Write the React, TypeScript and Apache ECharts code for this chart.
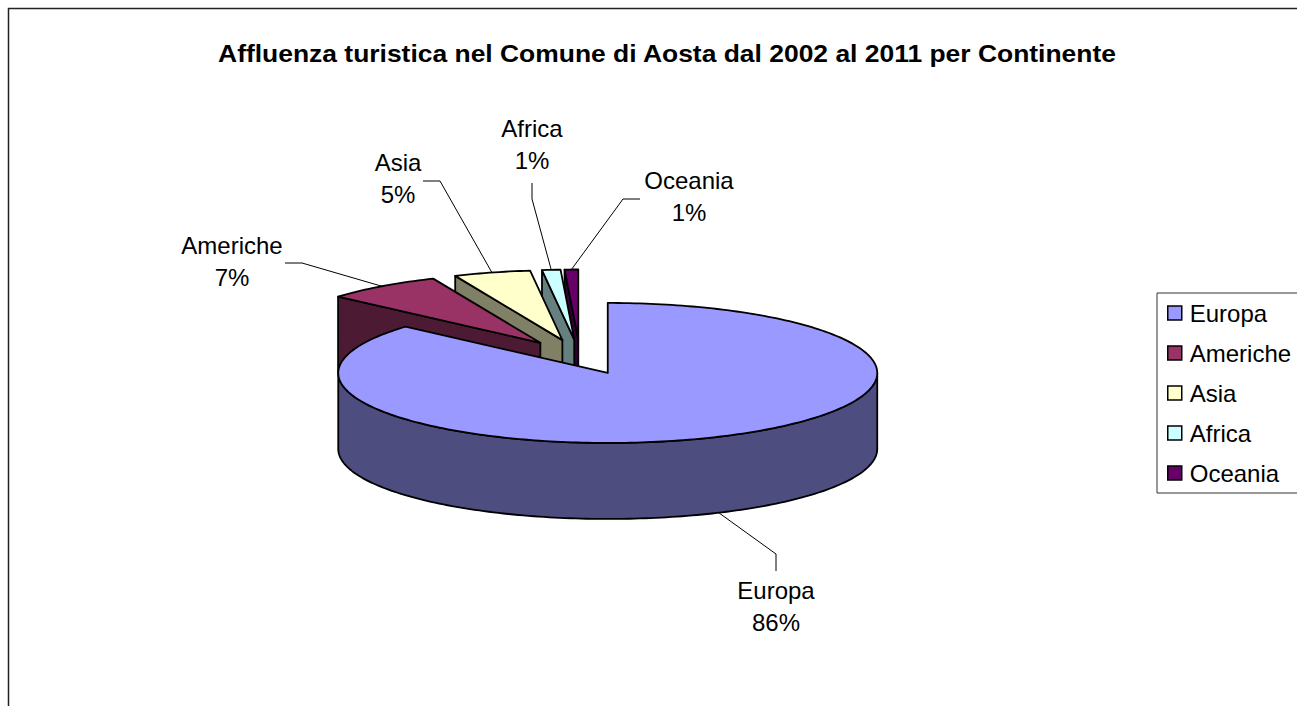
import React, { useEffect, useRef } from "react";
import * as echarts from "echarts";

const titleText = "Affluenza turistica nel Comune di Aosta dal 2002 al 2011 per Continente";
const continents = ["Europa", "Americhe", "Asia", "Africa", "Oceania"];
const shares = [86.49, 7.0, 4.6, 1.1, 0.81];
const topColors = ["#9999FF", "#993366", "#FFFFCC", "#CCFFFF", "#660066"];
const sideColors = ["#4D4D80", "#4D1A33", "#808066", "#668080", "#330033"];

// Pie layout (projected ellipse)
const CX = 580, CY = 357, RX = 269.5, RY = 70, DEPTH = 76, EXPLODE = 0.25;

// Leader elbow/end and label centre
const labelLayout: Record<string, { pts: number[][]; at: number[] }> = {
  Europa: { pts: [[776, 554], [776, 571]], at: [776, 606] },
  Americhe: { pts: [[302, 263], [285, 263]], at: [232, 261] },
  Asia: { pts: [[440, 181], [423, 181]], at: [398, 178] },
  Africa: { pts: [[532, 199], [532, 183]], at: [532, 144] },
  Oceania: { pts: [[623, 199], [640, 199]], at: [689, 196] },
};

const total = shares.reduce((a, b) => a + b, 0);
const LINE = { stroke: "#000", lineWidth: 1.8, lineJoin: "round" as const };
const FONT = '"Liberation Sans", Arial, sans-serif';

function buildRender(index: number) {
  return (_p: any, api: any) => {
    const value = api.value(0);
    const before = shares.slice(0, index).reduce((a, b) => a + b, 0);
    const a0 = (before / total) * Math.PI * 2;
    const a1 = a0 + (value / total) * Math.PI * 2;
    const mid = (a0 + a1) / 2;
    const ox = CX + EXPLODE * RX * Math.sin(mid);
    const oy = CY - EXPLODE * RY * Math.cos(mid);
    const at = (a: number, dz = 0) => [ox + RX * Math.sin(a), oy - RY * Math.cos(a) + dz];
    const arc = (from: number, to: number, dz = 0) => {
      const n = Math.max(2, Math.ceil(Math.abs(to - from) / 0.02));
      const out: number[][] = [];
      for (let i = 0; i <= n; i++) out.push(at(from + ((to - from) * i) / n, dz));
      return out;
    };
    const children: any[] = [];
    const name = continents[index];
    // radial wall on the starting edge, when it faces the viewer
    if (Math.cos(a0) > 0 && Math.sin(a0) < 0) {
      children.push({
        type: "polygon",
        shape: { points: [at(a0), [ox, oy], [ox, oy + DEPTH], at(a0, DEPTH)] },
        style: { fill: sideColors[index], ...LINE },
      });
    }
    // outer wall in the front half
    const f0 = Math.max(a0, Math.PI / 2);
    const f1 = Math.min(a1, (Math.PI * 3) / 2);
    if (f1 > f0) {
      children.push({
        type: "polygon",
        shape: { points: [...arc(f0, f1), ...arc(f1, f0, DEPTH)] },
        style: { fill: sideColors[index], ...LINE },
      });
    }
    // top face
    children.push({
      type: "polygon",
      shape: { points: [[ox, oy], ...arc(a0, a1)] },
      style: { fill: topColors[index], ...LINE },
    });
    // leader and label
    const isFront = Math.cos(mid) < 0;
    const anchor = at(mid, isFront ? DEPTH : 0);
    const lay = labelLayout[name];
    children.push({
      type: "polyline",
      shape: { points: [anchor, ...lay.pts] },
      style: { stroke: "#000", lineWidth: 1, fill: "none" },
    });
    children.push({
      type: "text",
      style: {
        x: lay.at[0],
        y: lay.at[1],
        text: `${name}\n${Math.round((value / total) * 100)}%`,
        fill: "#000",
        font: `24px ${FONT}`,
        lineHeight: 32,
        align: "center",
        verticalAlign: "middle",
      },
    });
    return { type: "group", children };
  };
}

export default function App() {
  const ref = useRef<HTMLDivElement>(null);
  useEffect(() => {
    const chart = echarts.init(ref.current!, undefined, { renderer: "svg" });
    const order = [4, 3, 2, 1, 0];
    chart.setOption({
      animation: false,
      backgroundColor: "#fff",
      graphic: [
        {
          type: "rect",
          z: -10,
          shape: { x: 8.5, y: 8.5, width: 1400, height: 900 },
          style: { fill: "#fff", stroke: "#222", lineWidth: 1.5 },
          silent: true,
        },
        {
          type: "text",
          x: 667,
          y: 54,
          scaleX: 1.15,
          style: {
            text: titleText,
            font: `bold 23px ${FONT}`,
            fill: "#000",
            align: "center",
            verticalAlign: "middle",
          },
          silent: true,
        },
      ],
      legend: {
        data: continents,
        orient: "vertical",
        left: 1157,
        top: 293,
        padding: [8, 40, 8, 10],
        itemGap: 16,
        itemWidth: 14,
        itemHeight: 14,
        icon: "rect",
        selectedMode: false,
        backgroundColor: "#fff",
        borderColor: "#333",
        borderWidth: 1,
        itemStyle: { borderColor: "#000", borderWidth: 1.5 },
        textStyle: { fontFamily: FONT, fontSize: 24, color: "#000", lineHeight: 18, padding: [0, 0, 0, 3] },
      },
      series: order.map((i) => ({
        type: "custom",
        name: continents[i],
        coordinateSystem: "none",
        silent: true,
        itemStyle: { color: topColors[i] },
        data: [[shares[i]]],
        renderItem: buildRender(i),
      })),
    });
    return () => chart.dispose();
  }, []);
  return <div ref={ref} style={{ position: "fixed", left: 0, top: 0, width: 1297, height: 706 }} />;
}
